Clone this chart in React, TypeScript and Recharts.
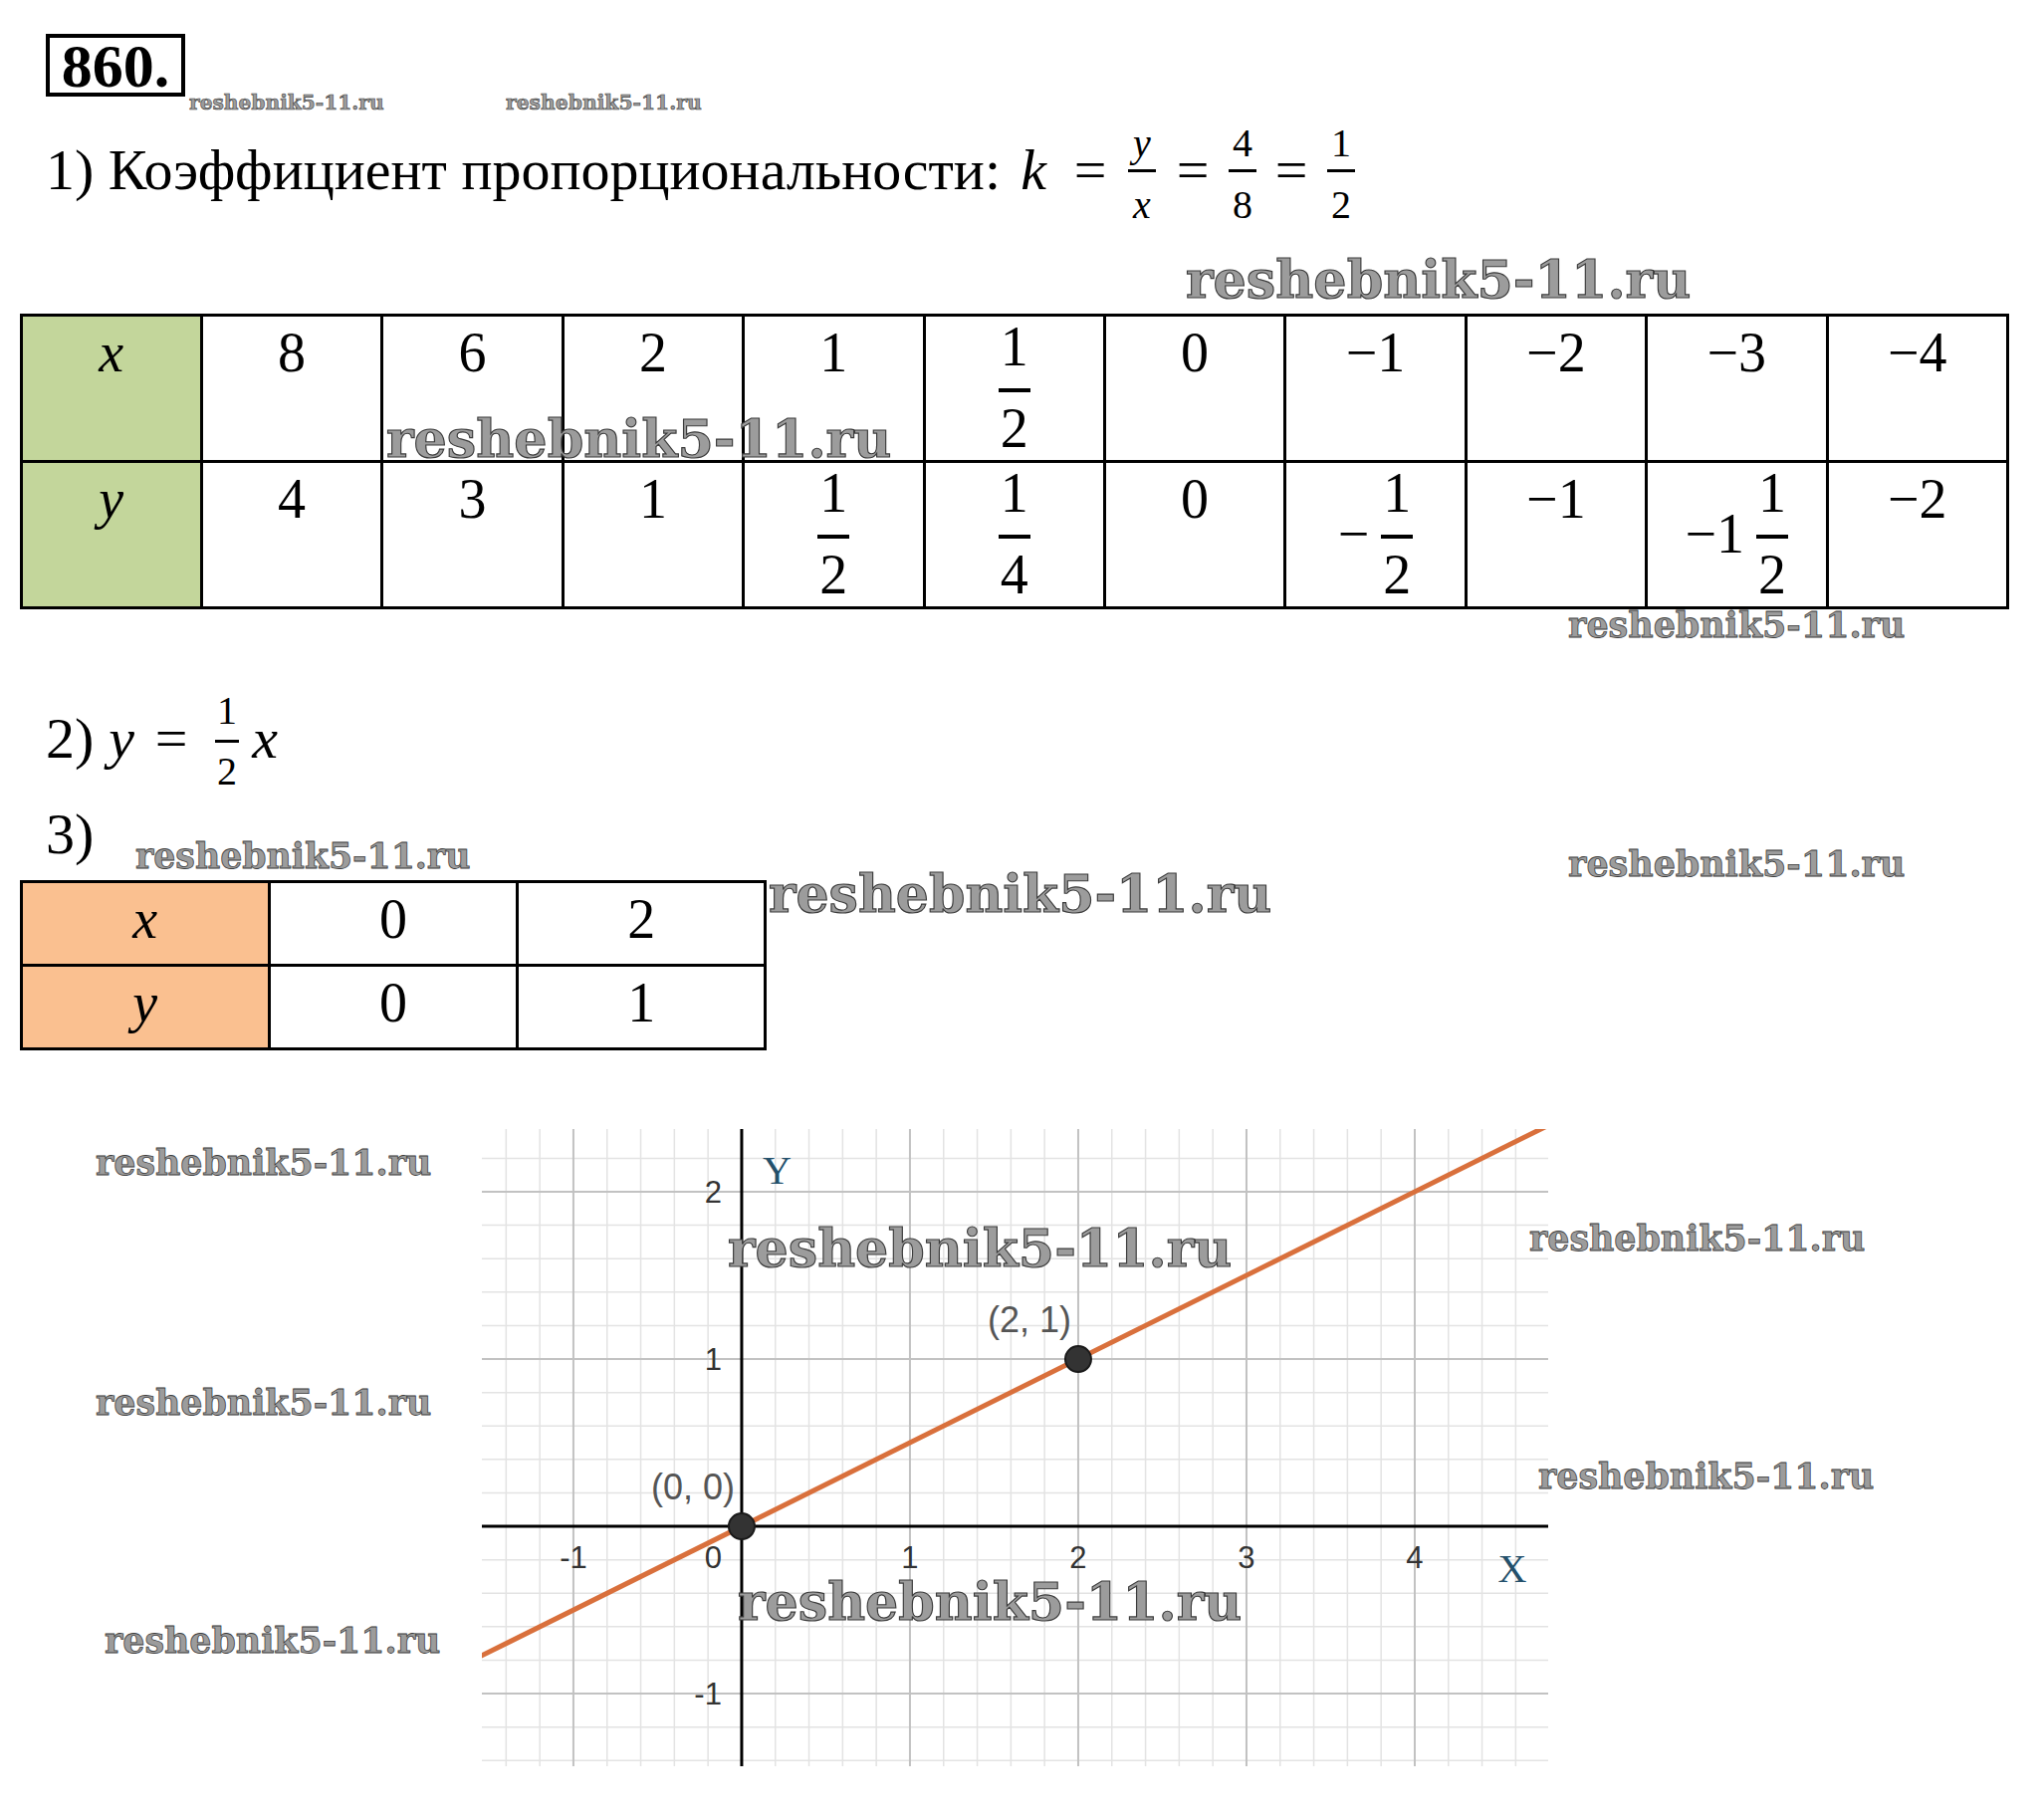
import React from 'react';
import { ComposedChart, Line, Scatter, XAxis, YAxis, CartesianGrid, ReferenceLine } from 'recharts';

// table 1
const headX = 'x';
const headY = 'y';
const tableX = ['8', '6', '2', '1', '1/2', '0', '-1', '-2', '-3', '-4'];
const tableY = ['4', '3', '1', '1/2', '1/4', '0', '-1/2', '-1', '-1 1/2', '-2'];

// table 2
const table2X = ['0', '2'];
const table2Y = ['0', '1'];

// graph y = x/2
const xMajor = [-1, 0, 1, 2, 3, 4];
const yMajor = [-1, 0, 1, 2];
const xMinor = [-1.4, -1.2, -0.8, -0.6, -0.4, -0.2, 0.2, 0.4, 0.6, 0.8, 1.2, 1.4, 1.6, 1.8, 2.2, 2.4, 2.6, 2.8, 3.2, 3.4, 3.6, 3.8, 4.2, 4.4, 4.6];
const yMinor = [-1.4, -1.2, -0.8, -0.6, -0.4, -0.2, 0.2, 0.4, 0.6, 0.8, 1.2, 1.4, 1.6, 1.8, 2.2];
const xTicks = [-1, 1, 2, 3, 4];
const yTicks = [-1, 1, 2];
const linePts = [
  { x: -1.6, y: -0.8 },
  { x: 4.8, y: 2.4 },
];
const points = [
  { x: 0, y: 0, label: '(0, 0)' },
  { x: 2, y: 1, label: '(2, 1)' },
];
const axisNames = [
  { x: 4.58, y: -0.25, t: 'X' },
  { x: 0.21, y: 2.13, t: 'Y' },
];

const watermarks = [
  [190, 103, 195], [508, 103, 196], [1191, 281, 505], [388, 441, 505],
  [1575, 628, 337], [136, 860, 335], [772, 898, 503], [1575, 868, 337],
  [96, 1168, 336], [731, 1254, 504], [1536, 1244, 336], [96, 1409, 336],
  [1545, 1483, 336], [105, 1648, 336], [741, 1609, 504],
];

const SERIF = '"Liberation Serif", "Times New Roman", serif';
const SANS = '"Liberation Sans", Arial, sans-serif';
const FS = 56;

function T({ x, y, size, children, italic = false, bold = false, anchor = 'middle' }: any) {
  const tx = anchor === 'middle' ? '-50%' : anchor === 'end' ? '-100%' : '0';
  return (
    <div
      style={{
        position: 'absolute', left: x, top: y, transform: `translate(${tx},-50%)`,
        fontSize: size, lineHeight: 1, fontFamily: SERIF, whiteSpace: 'nowrap',
        fontStyle: italic ? 'italic' : 'normal', fontWeight: bold ? 700 : 400, color: '#000',
      }}
    >
      {children}
    </div>
  );
}

function InlineFrac({ cx, num, den, ny, by, dy, size, barW, italic = false }: any) {
  return (
    <>
      <T x={cx} y={ny} size={size} italic={italic}>{num}</T>
      <div style={{ position: 'absolute', left: cx - barW / 2, top: by - 1.5, width: barW, height: 3, background: '#000' }} />
      <T x={cx} y={dy} size={size} italic={italic}>{den}</T>
    </>
  );
}

function parseVal(s: string) {
  const neg = s.startsWith('-');
  const r = neg ? s.slice(1) : s;
  let whole = '', num = '', den = '';
  if (r.includes('/')) {
    const parts = r.split(' ');
    if (parts.length === 2) {
      whole = parts[0];
      [num, den] = parts[1].split('/');
    } else {
      [num, den] = r.split('/');
    }
  } else whole = r;
  return { neg, whole, num, den };
}

function CellValue({ s, w, italic = false }: any) {
  const v = parseVal(s);
  const prefix = (v.neg ? '\u2212' : '') + v.whole;
  const txt = { fontSize: FS, lineHeight: 1, fontFamily: SERIF, fontStyle: italic ? 'italic' : 'normal' } as any;
  if (!v.num) {
    return <div style={{ position: 'absolute', left: 0, width: w, top: 10, textAlign: 'center', ...txt }}>{prefix}</div>;
  }
  return (
    <div style={{ position: 'absolute', left: 0, width: w, top: 4, display: 'flex', justifyContent: 'center', alignItems: 'center' }}>
      {prefix && <span style={{ ...txt, marginRight: 12 }}>{prefix}</span>}
      <div style={{ display: 'flex', flexDirection: 'column', alignItems: 'center' }}>
        <span style={txt}>{v.num}</span>
        <div style={{ width: 32, height: 4, background: '#000', marginTop: 14, marginBottom: 8 }} />
        <span style={txt}>{v.den}</span>
      </div>
    </div>
  );
}

function Table({ left, top, colW, rowH, rows, headBg }: any) {
  const nCols = rows[0].length;
  const width = colW * nCols;
  const height = rowH * rows.length;
  const lines: any[] = [];
  for (let i = 0; i <= nCols; i++) {
    lines.push(<div key={'v' + i} style={{ position: 'absolute', left: i * colW - 1.5, top: -1.5, width: 3, height: height + 3, background: '#000' }} />);
  }
  for (let j = 0; j <= rows.length; j++) {
    lines.push(<div key={'h' + j} style={{ position: 'absolute', left: -1.5, top: j * rowH - 1.5, width: width + 3, height: 3, background: '#000' }} />);
  }
  return (
    <div style={{ position: 'absolute', left, top, width, height }}>
      <div style={{ position: 'absolute', left: 0, top: 0, width: colW, height, background: headBg }} />
      {rows.map((row: string[], j: number) =>
        row.map((s, i) => (
          <div key={j + '-' + i} style={{ position: 'absolute', left: i * colW, top: j * rowH, width: colW, height: rowH }}>
            <CellValue s={s} w={colW} italic={i === 0} />
          </div>
        ))
      )}
      {lines}
    </div>
  );
}

function Watermark({ x, y, w }: any) {
  const fs = w / 9.65;
  return (
    <div
      style={{
        position: 'absolute', left: x, top: y, transform: 'translateY(-50%)',
        fontFamily: '"DejaVu Serif", serif', fontWeight: 700, fontSize: fs, lineHeight: 1,
        color: '#9c9c9c', WebkitTextStroke: `${Math.max(0.6, fs / 45)}px #3c3c3c`,
        whiteSpace: 'nowrap', zIndex: 5,
      }}
    >
      reshebnik5-11.ru
    </div>
  );
}

const XTick = (p: any) => (
  <text x={p.cx} y={p.cy + 31} textAnchor="middle" dominantBaseline="central" fontSize={31} fill="#333" fontFamily={SANS}>
    {p.payload.t}
  </text>
);
const YTick = (p: any) => (
  <text x={p.cx - 20} y={p.cy} textAnchor="end" dominantBaseline="central" fontSize={31} fill="#333" fontFamily={SANS}>
    {p.payload.t}
  </text>
);
const OriginTick = (p: any) => (
  <text x={p.cx - 20} y={p.cy + 31} textAnchor="end" dominantBaseline="central" fontSize={31} fill="#333" fontFamily={SANS}>
    0
  </text>
);
const AxisName = (p: any) => (
  <text x={p.cx} y={p.cy} textAnchor="middle" dominantBaseline="central" fontSize={40} fill="#24506b" fontFamily={SERIF}>
    {p.payload.t}
  </text>
);
const PointShape = (p: any) => (
  <g>
    <circle cx={p.cx} cy={p.cy} r={13} fill="#333" stroke="#1a1a1a" strokeWidth={2} />
    <text x={p.cx - 49} y={p.cy - 40} textAnchor="middle" dominantBaseline="central" fontSize={36} fill="#555" fontFamily={SANS}>
      {p.payload.label}
    </text>
  </g>
);

function Graph() {
  const tickX = xTicks.map((v) => ({ x: v, y: 0, t: String(v) }));
  const tickY = yTicks.map((v) => ({ x: 0, y: v, t: String(v) }));
  return (
    <ComposedChart width={1200} height={720} margin={{ top: 34, right: 45, bottom: 46, left: 84 }}>
      <XAxis type="number" dataKey="x" domain={[-1.544, 4.793]} allowDataOverflow hide />
      <YAxis type="number" dataKey="y" domain={[-1.434, 2.375]} allowDataOverflow hide />
      <CartesianGrid stroke="#e3e3e3" strokeWidth={1.5} verticalValues={xMinor} horizontalValues={yMinor} />
      <CartesianGrid stroke="#c2c2c2" strokeWidth={2} verticalValues={xMajor} horizontalValues={yMajor} />
      <ReferenceLine x={0} stroke="#000" strokeWidth={3} />
      <ReferenceLine y={0} stroke="#000" strokeWidth={3} />
      <Line data={linePts} dataKey="y" stroke="#d9703c" strokeWidth={5} dot={false} isAnimationActive={false} />
      <Scatter data={tickX} shape={XTick} isAnimationActive={false} />
      <Scatter data={tickY} shape={YTick} isAnimationActive={false} />
      <Scatter data={[{ x: 0, y: 0 }]} shape={OriginTick} isAnimationActive={false} />
      <Scatter data={axisNames} shape={AxisName} isAnimationActive={false} />
      <Scatter data={points} shape={PointShape} isAnimationActive={false} />
    </ComposedChart>
  );
}

export default function App() {
  return (
    <div style={{ position: 'absolute', left: 0, top: 0, width: 2053, height: 1826, background: '#fff', overflow: 'hidden' }}>
      {/* number of the task */}
      <div style={{ position: 'absolute', left: 46, top: 34, width: 140, height: 63, boxSizing: 'border-box', border: '4px solid #000' }} />
      <T x={116} y={66} size={62} bold>860.</T>

      {/* 1) */}
      <T x={46} y={171} size={58} anchor="start">1) Коэффициент пропорциональности:</T>
      <T x={1038} y={171} size={58} italic>k</T>
      <T x={1095} y={171} size={58}>=</T>
      <InlineFrac cx={1147} num="y" den="x" ny={144} by={171} dy={206} size={40} barW={28} italic />
      <T x={1198} y={171} size={58}>=</T>
      <InlineFrac cx={1248} num="4" den="8" ny={144} by={171} dy={206} size={40} barW={28} />
      <T x={1297} y={171} size={58}>=</T>
      <InlineFrac cx={1347} num="1" den="2" ny={144} by={171} dy={206} size={40} barW={28} />

      <Table left={21} top={316} colW={181.4} rowH={147} rows={[[headX, ...tableX], [headY, ...tableY]]} headBg="#c3d69b" />

      {/* 2) */}
      <T x={46} y={742} size={58} anchor="start">2)</T>
      <T x={122} y={742} size={58} italic>y</T>
      <T x={172} y={742} size={58}>=</T>
      <InlineFrac cx={228} num="1" den="2" ny={714} by={744} dy={775} size={40} barW={24} />
      <T x={266} y={742} size={58} italic>x</T>

      {/* 3) */}
      <T x={46} y={838} size={58} anchor="start">3)</T>
      <Table left={21} top={885} colW={249.3} rowH={84} rows={[[headX, ...table2X], [headY, ...table2Y]]} headBg="#fac090" />

      <div style={{ position: 'absolute', left: 400, top: 1100, width: 1200, height: 720 }}>
        <Graph />
      </div>

      {watermarks.map(([x, y, w], i) => (
        <Watermark key={i} x={x} y={y} w={w} />
      ))}
    </div>
  );
}
